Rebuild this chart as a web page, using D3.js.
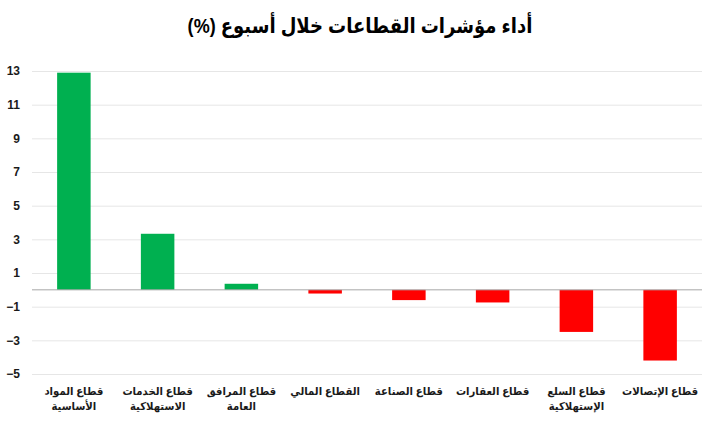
<!DOCTYPE html>
<html lang="ar">
<head>
<meta charset="utf-8">
<script src="https://cdn.jsdelivr.net/npm/d3@7"></script>
<style>
  html, body { margin: 0; padding: 0; background: #fff; }
  #chart { width: 711px; height: 423px; }
  text { font-family: "Liberation Sans", Arial, "DejaVu Sans", sans-serif; }
</style>
</head>
<body>
<div id="chart"></div>
<script>
// Data (weekly % change per sector)
const categories = [
    ['قطاع المواد', 'الأساسية'],
    ['قطاع الخدمات', 'الاستهلاكية'],
    ['قطاع المرافق', 'العامة'],
    ['القطاع المالي'],
    ['قطاع الصناعة'],
    ['قطاع العقارات'],
    ['قطاع السلع', 'الإستهلاكية'],
    ['قطاع الإتصالات']
];
const values = [12.9, 3.33, 0.36, -0.22, -0.61, -0.75, -2.5, -4.2];
const yTicks = [13, 11, 9, 7, 5, 3, 1, -1, -3, -5];
const title = 'أداء مؤشرات القطاعات خلال أسبوع (%)';

const config = {
    width: 711,
    height: 423,
    margin: { top: 71, right: 9, bottom: 49, left: 32 },
    posColor: '#00b050',
    negColor: '#ff0000'
};

const width = config.width - config.margin.left - config.margin.right;
const height = config.height - config.margin.top - config.margin.bottom;

const svg = d3.select('#chart')
    .append('svg')
    .attr('width', config.width)
    .attr('height', config.height);

const g = svg.append('g')
    .attr('transform', `translate(${config.margin.left},${config.margin.top})`);

// Title (slightly condensed to match the narrow bold Arabic face)
svg.append('text')
    .attr('transform', 'translate(360,33) scale(0.86,1)')
    .attr('text-anchor', 'middle')
    .attr('direction', 'rtl')
    .style('font-size', '21px')
    .style('font-weight', 'bold')
    .style('fill', '#000')
    .text(title);

// Scales
const keys = categories.map((c, i) => i);
const x = d3.scaleBand()
    .domain(keys)
    .range([0, width])
    .paddingInner(0.6)
    .paddingOuter(0.3);

const y = d3.scaleLinear()
    .domain([-5, 13])
    .range([height, 0]);

// Grid
g.append('g')
    .attr('class', 'grid')
    .call(d3.axisLeft(y).tickValues(yTicks).tickSize(-width).tickFormat(''))
    .call(s => s.select('.domain').remove())
    .call(s => s.selectAll('line').attr('stroke', '#e6e6e6').attr('stroke-width', 1));

// Y axis labels
g.append('g')
    .attr('class', 'y-axis')
    .call(d3.axisLeft(y).tickValues(yTicks).tickSize(0).tickPadding(12).tickFormat(d3.format('d')))
    .call(s => s.select('.domain').remove())
    .call(s => s.selectAll('text')
        .style('font-size', '12px')
        .style('font-weight', 'bold')
        .style('fill', '#1a1a1a'));

// Bars
g.selectAll('.bar')
    .data(values)
    .enter()
    .append('rect')
    .attr('class', 'bar')
    .attr('x', (d, i) => x(i))
    .attr('width', x.bandwidth())
    .attr('y', d => y(Math.max(0, d)))
    .attr('height', d => Math.abs(y(d) - y(0)))
    .attr('fill', d => d >= 0 ? config.posColor : config.negColor);

// Zero line
g.append('line')
    .attr('x1', 0)
    .attr('x2', width)
    .attr('y1', y(0))
    .attr('y2', y(0))
    .attr('stroke', '#a6a6a6')
    .attr('stroke-width', 1);

// Category labels
const xAxis = g.append('g')
    .attr('class', 'x-axis')
    .attr('transform', `translate(0,${height})`);

categories.forEach((lines, i) => {
    const cx = x(i) + x.bandwidth() / 2;
    const t = xAxis.append('text')
        .attr('transform', `translate(${cx},21) scale(0.92,1)`)
        .attr('text-anchor', 'middle')
        .attr('direction', 'rtl')
        .style('font-size', '11px')
        .style('font-weight', 'bold')
        .style('fill', '#1a1a1a');
    lines.forEach((line, j) => {
        t.append('tspan')
            .attr('x', 0)
            .attr('dy', j === 0 ? 0 : 15)
            .text(line);
    });
});
</script>
</body>
</html>
